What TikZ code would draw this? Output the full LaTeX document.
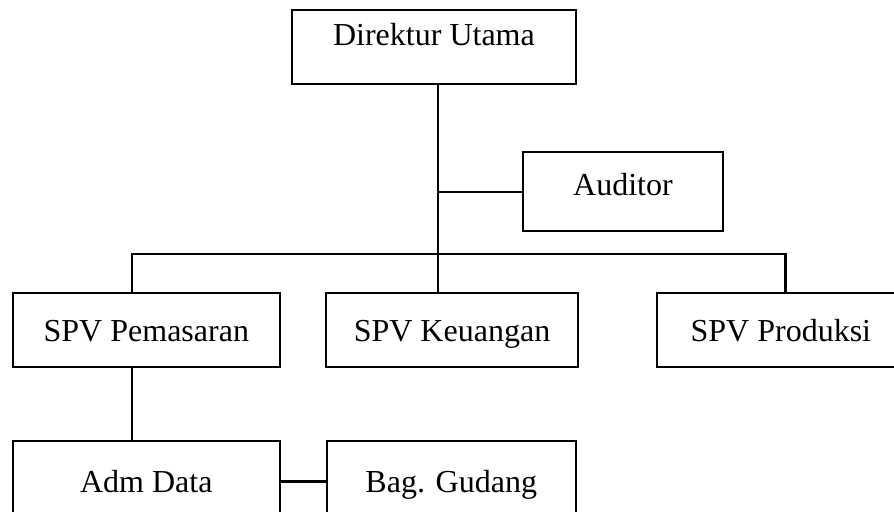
\documentclass[tikz,border=0pt]{standalone}
\usepackage{fontspec}
\setmainfont{Liberation Serif}
\usetikzlibrary{positioning, calc}
\tikzset{
  jabatan/.style={rectangle,draw=black,line width=.8pt,font=\fontsize{12pt}{14pt}\selectfont,minimum height=.975cm,text height=8pt,text depth=0pt,inner sep=0pt},
  jabatan_b/.style={jabatan,minimum height=1.07cm},
  garis/.style={draw=black,line width=.8pt},
}
\begin{document}
\begin{tikzpicture}
	    \useasboundingbox (0,0) rectangle (11.78,-6.746);
	    \node[jabatan,anchor=north west,minimum width=3.74cm,text depth=9.4pt] (dirut) at (3.834,-0.119) {Direktur Utama};
	    \node[jabatan,below right=0.87cm and 3.04cm of dirut.south west,minimum width=2.64cm,minimum height=1.04cm,text depth=5.2pt] (auditor) {Auditor};
	    \node[jabatan,below=2.73cm of dirut.south west,anchor=north west,xshift=-3.68cm,minimum width=3.52cm] (pemasaran) {SPV Pemasaran};
	    \node[jabatan,right=0.58cm of pemasaran,minimum width=3.32cm] (keuangan) {SPV Keuangan};
	    \node[jabatan,right=1.01cm of keuangan,minimum width=3.27cm] (produksi) {SPV Produksi};
	    \node[jabatan_b,below=0.94cm of pemasaran,minimum width=3.52cm] (admdata) {Adm Data};
	    \node[jabatan_b,right=0.59cm of admdata,minimum width=3.28cm] (gudang) {Bag. Gudang};
	    \coordinate (trunk) at ($(dirut.south west)+(1.94,0)$);
	    \coordinate (busl) at ($(pemasaran.north west)+(1.59,0.51)$);
	    \coordinate (busr) at ($(produksi.north west)+(1.71,0.51)$);
	    \draw[garis] (trunk) -- (trunk |- keuangan.north);
	    \draw[garis] (trunk |- auditor.west) -- (auditor.west);
	    \draw[garis] (busl |- pemasaran.north) -- (busl) -- (busr) -- (busr |- produksi.north);
	    \draw[garis] (busl |- pemasaran.south) -- (busl |- admdata.north);
	    \draw[garis] (admdata.east) -- (gudang.west);
	\end{tikzpicture}
\end{document}
